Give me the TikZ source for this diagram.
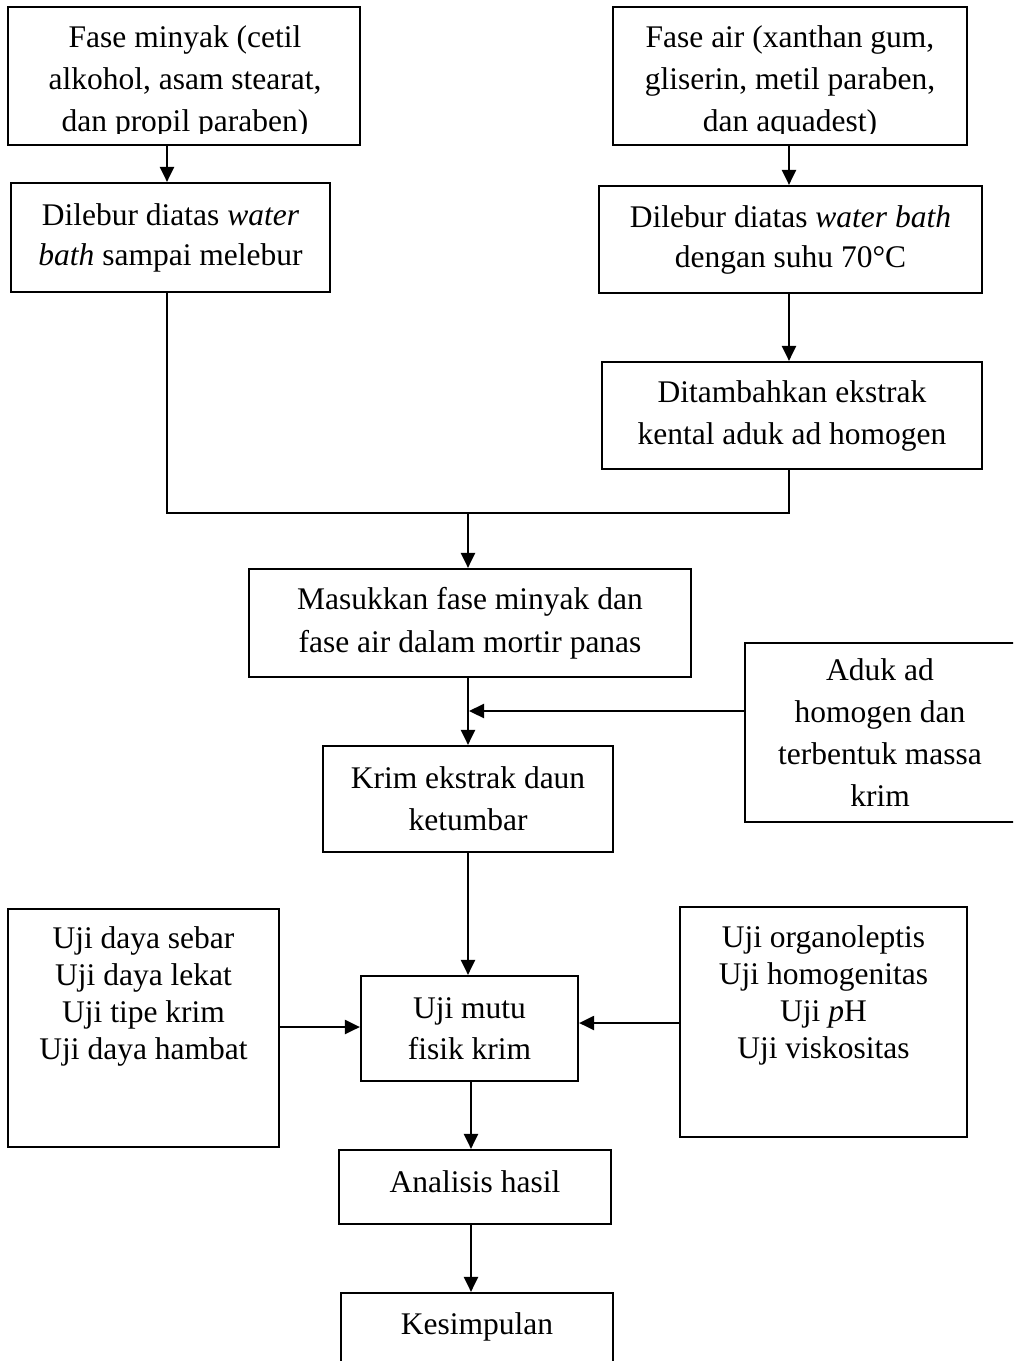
\documentclass[tikz,border=0pt]{standalone}
\usepackage{fontspec}
\setmainfont{Liberation Serif}
\usetikzlibrary{arrows.meta}
\begin{document}
\begin{tikzpicture}[x=1pt,y=-1pt,
  box/.style={draw,line width=2.2pt,inner sep=0pt,rectangle,minimum width=#1},
  txt/.style={inner sep=0pt,align=center,font=\fontsize{31.5}{42}\selectfont},
  txtb/.style={inner sep=0pt,align=center,font=\fontsize{31.5}{37}\selectfont},
  ln/.style={line width=2.2pt},
  arr/.style={line width=2.2pt,-{Triangle[length=15pt,width=14pt]}}]
\path[use as bounding box,clip] (0,0) rectangle (1013,1361);
\fill[white] (0,0) rectangle (1013,1361);
% boxes
\node[box=352pt,minimum height=138pt] (b1) at (184,76) {};
\node[box=319pt,minimum height=109pt] (b2) at (170.5,237.5) {};
\node[box=354pt,minimum height=138pt] (b3) at (790,76) {};
\node[box=383pt,minimum height=107pt] (b4) at (790.5,239.5) {};
\node[box=380pt,minimum height=107pt] (b5) at (792,415.5) {};
\node[box=442pt,minimum height=108pt] (b6) at (470,623) {};
\node[box=270pt,minimum height=179pt] (b7) at (880,732.5) {};
\node[box=290pt,minimum height=106pt] (b8) at (468,799) {};
\node[box=271pt,minimum height=238pt] (b9) at (143.5,1028) {};
\node[box=217pt,minimum height=105pt] (b10) at (469.5,1028.5) {};
\node[box=287pt,minimum height=230pt] (b11) at (823.5,1022) {};
\node[box=272pt,minimum height=74pt] (b12) at (475,1187) {};
\node[box=272pt,minimum height=120pt] (b13) at (477,1353) {};
% texts
\begin{scope}
\clip (8,7) rectangle (360,133);
\node[txt] (t1) at (185,82) {Fase minyak (cetil\\alkohol, asam stearat,\\dan propil paraben)};
\end{scope}
\begin{scope}
\clip (613,7) rectangle (967,133);
\node[txt] (t3) at (790,82) {Fase air (xanthan gum,\\gliserin, metil paraben,\\dan aquadest)};
\end{scope}
\node[txt,font=\fontsize{31.5}{40}\selectfont] (t2) at (b2) {Dilebur diatas \textit{water}\\\textit{bath} sampai melebur};
\node[txt,font=\fontsize{31.5}{40}\selectfont] (t4) at (b4) {Dilebur diatas \textit{water bath}\\dengan suhu 70°C};
\node[txt] (t5) at (b5) {Ditambahkan ekstrak\\kental aduk ad homogen};
\node[txt,font=\fontsize{31.5}{43}\selectfont] (t6) at (b6) {Masukkan fase minyak dan\\fase air dalam mortir panas};
\node[txt] (t7) at (b7) {Aduk ad\\homogen dan\\terbentuk massa\\krim};
\node[txt] (t8) at (b8) {Krim ekstrak daun\\ketumbar};
\node[txtb] (t9) at (143.5,996) {Uji daya sebar\\Uji daya lekat\\Uji tipe krim\\Uji daya hambat};
\node[txt,font=\fontsize{31.5}{41}\selectfont] (t10) at (b10) {Uji mutu\\fisik krim};
\node[txtb] (t11) at (823.5,995) {Uji organoleptis\\Uji homogenitas\\Uji \textit{p}H\\Uji viskositas};
\node[txt] (t12) at (475,1182) {Analisis hasil};
\node[txt] (t13) at (477,1327) {Kesimpulan};
% connectors
\coordinate (m1) at (167,513);
\coordinate (m2) at (789,513);
\coordinate (m) at (468,513);
\coordinate (j) at (469,711);
\draw[arr] (b1.south -| 167,0) -- (b2.north -| 167,0);
\draw[arr] (b3.south -| 789,0) -- (b4.north -| 789,0);
\draw[arr] (b4.south -| 789,0) -- (b5.north -| 789,0);
\draw[ln] (b2.south -| m1) -- (m1) -- (m2) -- (b5.south -| m2);
\draw[arr] (m) -- (m |- b6.north);
\draw[arr] (b6.south -| b8.north) -- (b8.north);
\draw[arr] (b7.west |- j) -- (j);
\draw[arr] (b8.south) -- (b8.south |- b10.north);
\draw[arr] (b9.east |- 0,1027) -- (b10.west |- 0,1027);
\draw[arr] (b11.west |- 0,1023) -- (b10.east |- 0,1023);
\draw[arr] (b10.south -| 471,0) -- (b12.north -| 471,0);
\draw[arr] (b12.south -| 471,0) -- (b13.north -| 471,0);
\end{tikzpicture}
\end{document}
